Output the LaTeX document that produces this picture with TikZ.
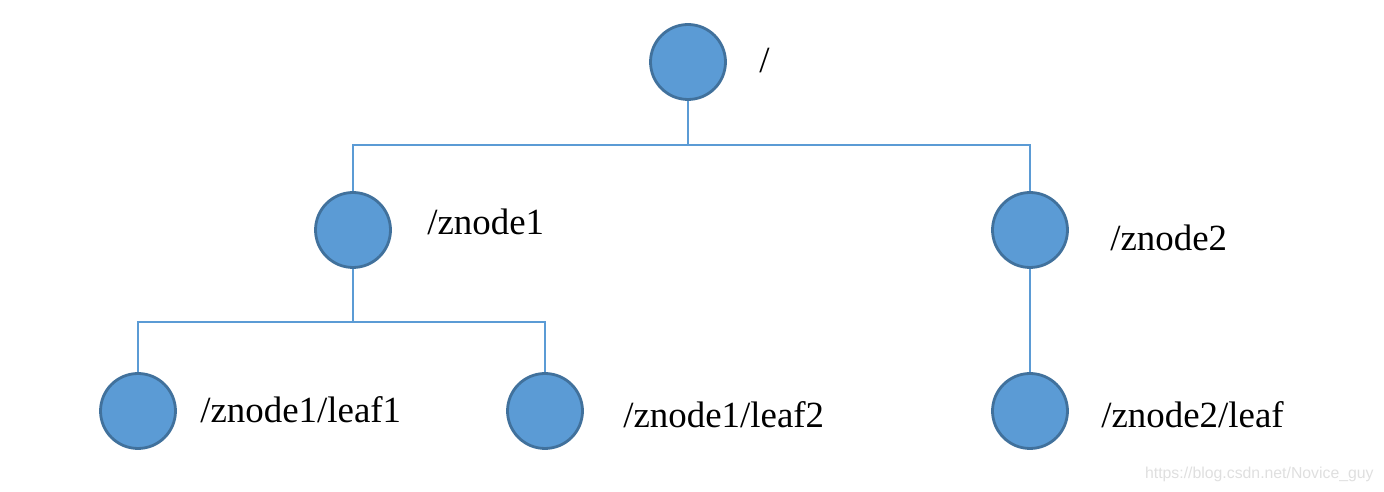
\documentclass[tikz,border=0pt]{standalone}
\usepackage{fontspec}
\setmainfont{Liberation Serif}
\newfontfamily\wmfont{Liberation Sans}
\usepackage{tikz}
\definecolor{zkfill}{HTML}{5B9BD5}
\definecolor{zkedge}{HTML}{41719C}

\begin{document}
\begin{tikzpicture}
  [x=0.02cm,y=-0.02cm,
   zk/.style={circle,fill=zkfill,draw=zkedge,line width=1.6pt,minimum size=1.5cm,inner sep=0pt},
   zklabel/.style={anchor=base west,inner sep=0pt,font=\fontsize{21}{25}\selectfont}]
  \useasboundingbox (0,0) rectangle (1384,492);
  \node[zk] (root)   at (688,62)  {};
  \node[zk] (znode1) at (353,230) {};
  \node[zk] (znode2) at (1030,230) {};
  \node[zk] (leaf1)  at (138,411) {};
  \node[zk] (leaf2)  at (545,411) {};
  \node[zk] (leaf3)  at (1030,411) {};
  \node[zklabel] (lroot) at (759,73)   {/};
  \node[zklabel] (l1)    at (427,235)  {/znode1};
  \node[zklabel] (l2)    at (1110,251) {/znode2};
  \node[zklabel] (l11)   at (200,423)  {/znode1/leaf1};
  \node[zklabel] (l12)   at (623,428)  {/znode1/leaf2};
  \node[zklabel] (l21)   at (1101,428) {/znode2/leaf};
  \node[anchor=base east,inner sep=0pt,text=gray!25,font=\wmfont\fontsize{9}{11}\selectfont]
    (wm) at (1374,479) {https://blog.csdn.net/Novice\_guy};
  % connectors
  \coordinate (b0) at (688,145);
  \coordinate (b1) at (353,322);
  \begin{scope}[draw=zkfill,line width=0.8pt]
  \draw (root) -- (b0);
  \draw (znode1.north) |- (b0) -| (znode2.north);
  \draw (znode1) -- (b1);
  \draw (leaf1.north) |- (b1) -| (leaf2.north);
  \draw (znode2) -- (leaf3);
  \end{scope}
\end{tikzpicture}
\end{document}
